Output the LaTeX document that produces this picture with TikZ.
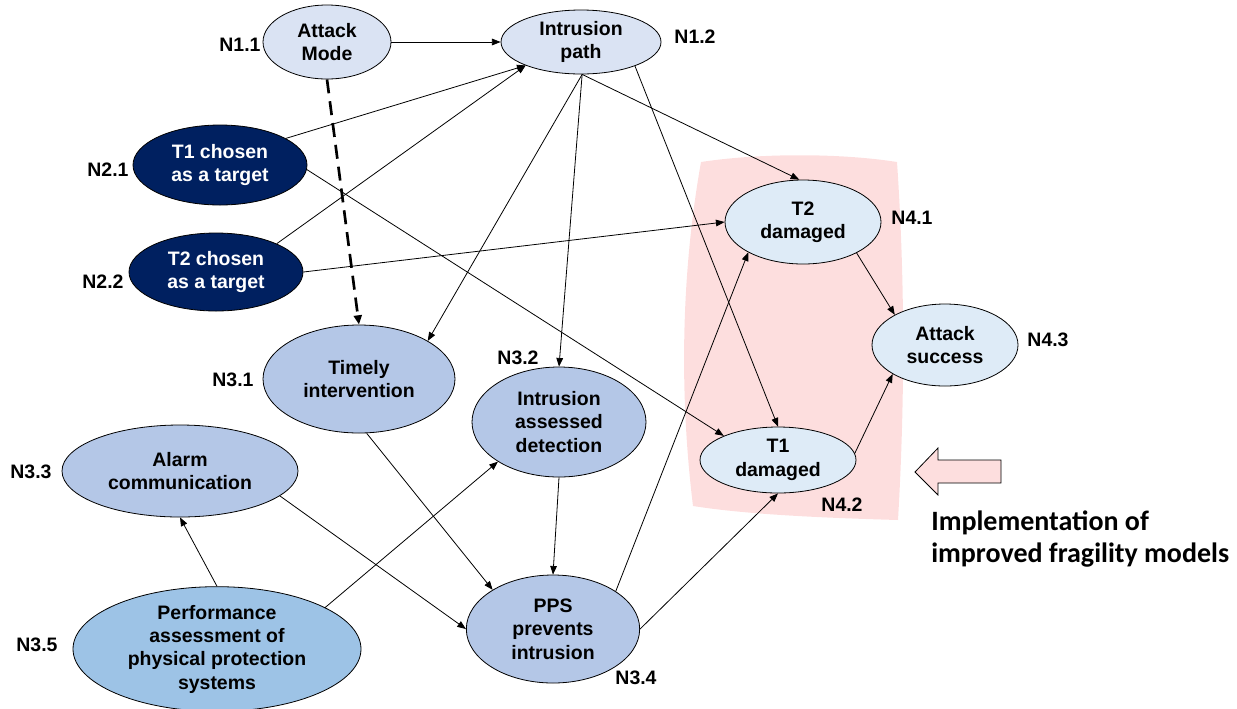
\documentclass[tikz,border=0pt]{standalone}
\usepackage{fontspec}
\setmainfont{Liberation Sans}
\newfontfamily\calib{Carlito}
\usetikzlibrary{shapes.geometric,arrows.meta}
\definecolor{lav}{HTML}{DAE3F3}
\definecolor{navy}{HTML}{002060}
\definecolor{pale}{HTML}{DEEBF7}
\definecolor{mid}{HTML}{B4C7E7}
\definecolor{perf}{HTML}{9DC3E6}
\definecolor{pinkbg}{HTML}{FDDEDE}
\newcommand\nfnt{\fontsize{14.6}{17.5}\selectfont\bfseries}
\newcommand\lfnt{\fontsize{14.6}{17.5}\selectfont\bfseries}
\tikzset{
  ell/.style={ellipse, draw, line width=0.6pt, inner sep=0pt, align=center, font=\nfnt},
  arr/.style={-{Triangle[length=6.5pt,width=5pt]}, line width=0.6pt},
  dasharr/.style={-{Triangle[length=7pt,width=6pt]}, line width=2pt, dash pattern=on 10.5pt off 6pt},
  lab/.style={font=\lfnt}
}
\begin{document}
\begin{tikzpicture}[x=0.75pt,y=-0.75pt]
\useasboundingbox (0,0) rectangle (1237,708);
% highlighted region
\fill[pinkbg] (701,162) .. controls (760,153) and (840,153) .. (897,162)
  .. controls (905,280) and (905,400) .. (898,520)
  .. controls (830,518) and (750,515) .. (693,506)
  .. controls (680,400) and (680,280) .. (701,162) -- cycle;
% block arrow
\draw[fill=pinkbg, line width=0.6pt] (915,472) -- (938,448) -- (938,460) -- (1001,460)
  -- (1001,483) -- (938,483) -- (938,495) -- cycle;
\node[anchor=base west, align=left, inner sep=0pt, font=\calib\fontsize{21}{24}\selectfont\bfseries] (cap) at (931,562)
  {Implementation of\\improved fragility models};
% nodes
\node[ell, fill=lav, minimum width=96pt, minimum height=55.5pt] (n11) at (327,42) {Attack\\Mode};
\node[ell, fill=lav, minimum width=120pt, minimum height=48pt] (n12) at (581,42) {Intrusion\\path};
\node[ell, fill=navy, text=white, minimum width=130.5pt, minimum height=60pt] (n21) at (220,165) {T1 chosen\\as a target};
\node[ell, fill=navy, text=white, minimum width=130.5pt, minimum height=58.5pt] (n22) at (216,272) {T2 chosen\\as a target};
\node[ell, fill=mid, minimum width=144pt, minimum height=81pt] (n31) at (359,379) {Timely\\intervention};
\node[ell, fill=mid, minimum width=130.5pt, minimum height=82.5pt] (n32) at (559,422) {Intrusion\\assessed\\detection};
\node[ell, fill=mid, minimum width=177pt, minimum height=69pt] (n33) at (180,471) {Alarm\\communication};
\node[ell, fill=mid, minimum width=130pt, minimum height=81pt] (n34) at (553,629) {PPS\\prevents\\intrusion};
\node[ell, fill=perf, minimum width=216pt, minimum height=85.5pt] (n35) at (217,649) {Performance\\assessment of\\physical protection\\systems};
\node[ell, fill=pale, minimum width=117pt, minimum height=63pt] (n41) at (803,222) {T2\\damaged};
\node[ell, fill=pale, minimum width=117pt, minimum height=49.5pt] (n42) at (778,460) {T1\\damaged};
\node[ell, fill=pale, minimum width=109.5pt, minimum height=61.5pt] (n43) at (945,345) {Attack\\success};
% labels
\node[lab] (l11) at (240,45) {N1.1};
\node[lab] (l12) at (695,37) {N1.2};
\node[lab] (l21) at (108,170) {N2.1};
\node[lab] (l22) at (103,282) {N2.2};
\node[lab] (l31) at (233,380) {N3.1};
\node[lab] (l32) at (518,358) {N3.2};
\node[lab] (l33) at (31,472) {N3.3};
\node[lab] (l34) at (636,678) {N3.4};
\node[lab] (l35) at (37,645) {N3.5};
\node[lab] (l41) at (912,218) {N4.1};
\node[lab] (l42) at (842,505) {N4.2};
\node[lab] (l43) at (1048,340) {N4.3};
% edges
\draw[arr] (n11) -- (n12);
\draw[arr] (n21.22.6) -- (n12.203.3);
\draw[arr] (n22.25) -- (n12.203.3);
\draw[dasharr] (n11.south) -- (n31.north);
\draw[arr] (n12.272) -- (n31.29.8);
\draw[arr] (n12.272) -- (n32.north);
\draw[arr] (n12.272) -- (n41.95);
\draw[arr] (n12.336.8) -- (n42.north);
\draw[arr] (n21.357) -- (n42.156);
\draw[arr] (n22.east) -- (n41.west);
\draw[arr] (n31.278) -- (n34.147.6);
\draw[arr] (n32.south) -- (n34.north);
\draw[arr] (n33.346) -- (n34.west);
\draw[arr] (n35.north) -- (n33.south);
\draw[arr] (n35.21.6) -- (n32.213);
\draw[arr] (n34.31.7) -- (n41.209.4);
\draw[arr] (n34.east) -- (n42.south);
\draw[arr] (n41.330.6) -- (n43.149);
\draw[arr] (n42.5) -- (n43.209.5);
\end{tikzpicture}
\end{document}
